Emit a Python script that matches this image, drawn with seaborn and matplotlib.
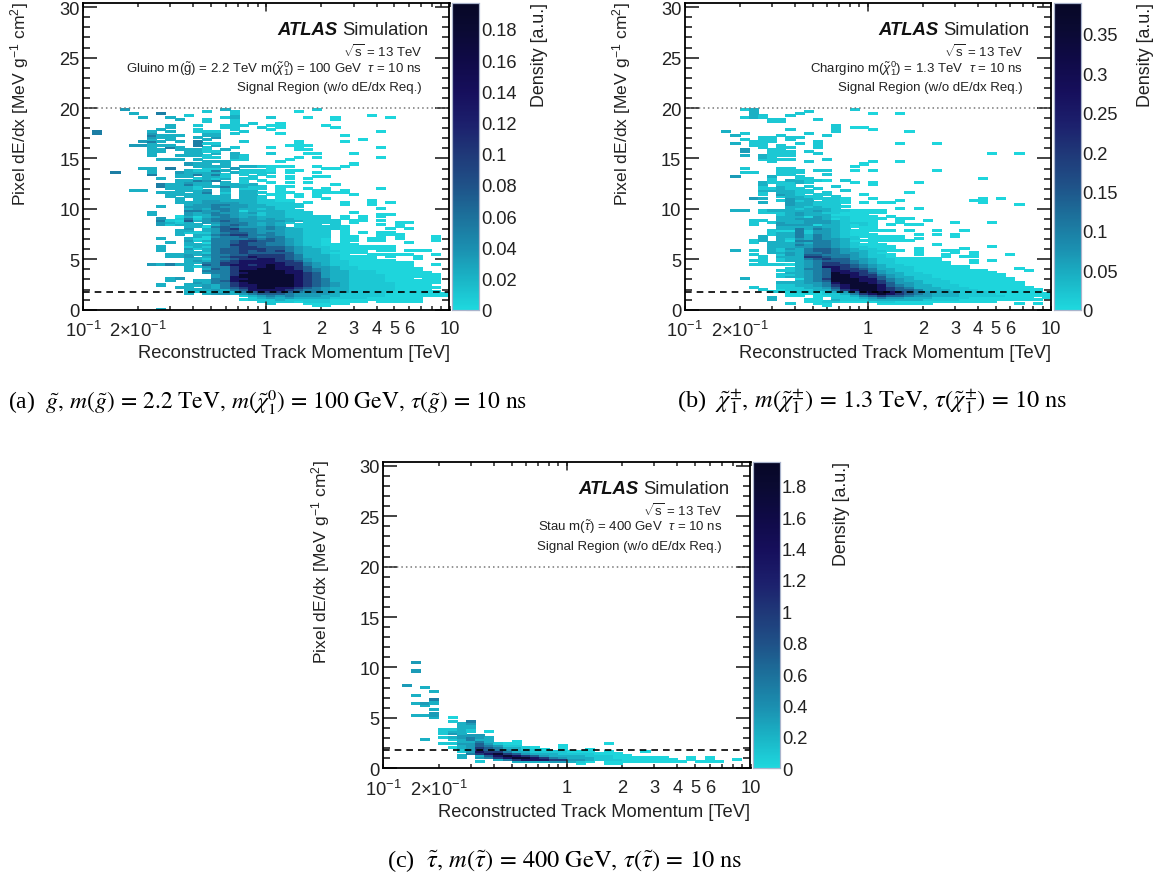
#libraries
import numpy as np
import pandas as pd
import matplotlib
matplotlib.use('Agg')
import matplotlib.pyplot as plt
import seaborn as sns
from matplotlib.colors import LinearSegmentedColormap

W, H = 1164, 878

#%% data, one string per row of the 2d histogram, top row first, 40 log-p bins per row
#'.' = empty bin, 1-9 = colour level
rows_a = [
"....4 ..... ..... 3.... ..... 2.... ..... .....",
"..... ..... ...2. .2... ...1. ..... ..... .....",
"..... 3..5. ..... .2... ..... ..... ..... .....",
"..... ..... .2... .3... ..... ..... .1... .....",
"..... .3..3 ..... 23... 2...1 ..1.. ...1. .....",
"..... ..... 3..2. .2... ..... ..1.. ..... .....",
"..... ..... ...2. .2... ..... ..... ..... .....",
"..... ..... ..... .2.2. .1... ..... ..... .....",
"..... ....3 ..2.. 222.. 11... .1... ..... .....",
"..... ....3 ..... 22..2 .1... ..1.. ..... .....",
"..... ...3. ..2.. .2... 1.... ..... ..... .....",
".5... ..3.3 ..222 ..2.. ..... ..... ..1.. .....",
".5... ..4.. ...33 .2... .1... ..... ..... .....",
"..... ..533 3..33 ..... ..... ...1. ..... .....",
"..... ..433 ..3.4 ..... ..... ..... ..... .....",
"..... ..3.3 ...3. ..... ..... ..... 1.... .....",
"..... .453. 3.5.. ..2.. ...1. ...1. ..... .....",
"..... ..3.. ..522 ..... ...1. ..... ..... .....",
"..... 44333 ..5.3 ..... ..111 ..... ..... .....",
"..... ..3.5 3..2. .2... 1..1. ..... ..1.. .....",
"..... ..33. 3332. 3.... ...11 ..... ..... .....",
"..... ..33. .3322 ..... ..... ..... ..... .....",
"..... ..3.. .33.3 .3... 2...1 1...1 ..... .....",
"..... ..3.. 3332. .32.. ..... ..... ..... .....",
"..... ..... ...22 .32.. ...1. 1.... ..1.. .....",
"..... ...33 3.3.. .22.. ..1.. ..... ..... .....",
"..... ..... ...33 3.... .1... ..... ..... .....",
"..... ..... .433. 3.... ..... ....1 ..... .....",
"..... ..... ..333 3.332 111.. 1..1. ..... .....",
"..... .33.5 ...22 .4... 1.... .11.. ..... .....",
"..... ..3.. .3225 3.222 1.11. ..... ..... .....",
"...5. ..3.. 43333 .3222 2.1.. 1.... ..... .....",
"..... ..5.. 33535 2.2.2 ..... ..... ..... .....",
"..... ..... 33.33 2..2. 1.1.. 11... ..... .....",
"..... ...3. ..232 3.22. ..1.1 ..... ..... .....",
"..... ..... 33545 ..2.1 ..... ..... ..... .....",
"..... ..... 3433. 3.2.. 1.1.1 ..... ..... .....",
"..... ...53 3533. 3333. ..... ..1.. ..... .....",
"..... ...53 33233 53322 .11.. ..... ..... .....",
"..... ....3 332.. 3.222 .1..1 .1... ..1.. .....",
"..... 33... 3334. 3.33. .1... 11.1. ..... .....",
"..... ...33 3.35. 2.332 .11.. 1111. ..... .....",
"..... ....3 3333. 3.33. 11.1. 1...1 ..... .....",
"..... ....3 .3333 3.332 .1.1. 1.... ..... .....",
"..... ..... 3.333 3.332 .1... .1... ..... .....",
"..... ..... 3.344 33332 211.. ..... .1... .....",
"..... ..... 33344 44332 222.1 ...1. .1.1. .....",
"..... ..... .3445 54433 2222. ...1. .1... .....",
"..... ...3. .4445 44433 3222. ..... ..... .....",
"..... ..... .3435 54332 322.. ..... ..1.. .....",
"..... ..... .5544 54133 3322. ..... ..... .....",
"..... ..3.. .4345 44342 33222 ....1 ..... .....",
"..... ..3.. .4335 54332 33222 ..... ..11. .....",
"..... ..... 13134 54343 33222 22.1. 1.1.. .....",
"..... ...4. 25245 55443 43322 22.1. 1.... .....",
"..... ...52 16345 65444 44332 222.1 1.1.. .....",
"..... ...43 23.44 55543 432.2 222.1 ....1 1....",
"..... ...42 333.3 56543 43.22 2.2.. ..1.1 .....",
"..... ..... .3315 65444 54.22 2221. ....1 .....",
"..... ..... .4.34 67554 54332 2221. ...1. 1....",
"..... ..... 33.34 66554 44332 22.1. ..... .....",
"..... ..... 32224 56654 54332 22.1. 1.11. .....",
"..... ..... 3.335 67755 54332 22.1. ..111 .....",
"..... ..... ..314 55654 55332 22.11 ..1.1 ...1.",
"..... ...3. .3115 55565 65432 21.11 .11.1 ...1.",
"..... ..... .4235 56776 65432 21.11 .11.. ...1.",
"..... ....3 .3.15 56766 55432 21.1. ..... 1....",
"..... ..... .3335 57766 55432 21111 ..... .....",
"..... ...3. .2325 56776 66543 22111 1111. .....",
"..... ...3. .4235 66777 66543 32111 1111. .....",
"..... ...3. .3.35 66767 67543 32211 1.11. 111..",
"..... ..... .3325 66766 66643 32111 1.... .....",
"..... ....3 34345 56677 77653 3321. .1111 1..1.",
"..... ....3 34.35 67787 77653 33211 11.1. .1...",
"..... ..... .3325 56778 87654 33211 11... .1...",
"..... ..... .3435 67888 87764 33221 1111. .....",
"..... ..... .3355 77888 88775 43221 11111 1....",
"..... ..435 33.65 78878 98775 43221 11111 1..1.",
"..... ..... .3245 57888 98876 44322 11111 1....",
"..... ..... .3.36 57889 98876 54322 11111 11...",
"..... ..... .3.55 57999 99886 54332 22111 11...",
"..... ..... ...45 57899 99887 64332 22111 111..",
"..... ..... ....4 57999 99987 64332 22211 1111.",
"..... ..... ....4 58999 99987 64332 22211 1111.",
"..... ....3 4...5 58899 99987 65332 22211 1.11.",
"..... ....3 ..335 68999 99987 65332 22211 1111.",
"..... ..... ..435 57899 99987 65432 22221 1111.",
"..... ...3. .3343 57889 99987 65432 22221 111..",
"..... ..... 33.43 56789 98876 54332 22221 1111.",
"..... ..... .3334 35688 88765 54332 22221 111..",
"..... ..... .3223 33567 77654 54332 22211 1111.",
"..... ..... .3.34 43456 66544 44322 22211 11111",
"..... ..... ..... ..234 54544 43322 22211 11111",
"..... ..... ..... ...23 43433 33222 21111 11...",
"..... ..... ..... ..122 23222 22111 11111 11...",
"..... ..... ..... ....2 22212 22111 1.111 11...",
"..... ..... ..... ..... 2...1 1111. ..... .....",
"..... ..... ..... ..... ..... 11... ..... .....",
"..... ..... ..... ..... ..... ..... ..... .....",
"..... ...3. ..... ..... ..... ..... ..... .....",
]

rows_b = [
"..... .23.. ..... ...2. ..... ..... ..... .....",
"..... ..3.. ...2. ..... ..... ..... ..... .....",
"..... ..3.. ..2.. ..... 1..1. ..... ..... .....",
"..... ..32. .2... ..... ..... ..... ..... .....",
"..... .232. ..... ..... ..... ..... ..... .....",
"..... ....2 2...2 ..... ..... ..... ..... .....",
"..... ....2 2.... ..... ..... ..... ..... .....",
"..... ..... ..... ..... ..... ..... ..... .....",
"..... ..... ..... .2... ..... ..... ..... .....",
"..... ..... ..... .2.11 ..... ..... ..... .....",
"..... ..... .2... .2... 1.... ..... ..... .....",
"....3 ..... ..... .2... ....1 ..... ..... .....",
"..... .2... ...2. ..... ..... ..... ..... .....",
"..... 3.... 2.... 2.... ..... ..... ..... .....",
"..... ...22 .22.. ..... ..... ..... ..... .....",
"..... .2.22 .2... ..... ..... ..... ..... .....",
"..... ..222 ....2 ..... ..... ..... ..... .....",
"..... 3.22. ..2.2 ..... ...1. ..1.. ..... .....",
"..... ..22. 2...2 ..... ..... ..... ..... .....",
"..... ...2. 22..2 ..... ..... ..... ..... .....",
"..... .4..2 2.... ..... ..... ..... ..... .....",
"..... .4..2 22.2. ..... ..... ..... ..... .....",
"..... ....2 22..2 ..... ..... ..... ...1. .1...",
"..... .3.32 22... ..... ..... ..... ..... .....",
"..... ...32 ..... ..... ..... ..... ..... .....",
"..... ...22 22... 2.... ..... ..... ..... .....",
"..... ....2 ...2. ..... 1..1. ..... ..... .....",
"..... ..... ..... ....1 ..... ..... ..... .....",
"..... ..... ..... ...1. ..... ..... ..... .....",
"..... .2... 22... ..... ..... ..... ..... .....",
"..... ..... 222.2 2..1. 1.... ..1.. ..... .....",
"..... .22.. 222.. ..... ..... ..... ..... .....",
"..... ..... 22... 2.... ..... ..... ..... .....",
"..... 4...3 ..2.. ..... ..... ..... ..... .....",
"..... ....2 ..22. ..... ..... ..... ..1.. .....",
"..... ....2 .3322 1.2.. ..... ..... ..... .....",
"..... ...32 2232. ...1. 1.... 1.... ..... .....",
"..... ...3. 22... ..... 1.... ..... ..... .....",
"..... ...2. 32.2. .2... ..... ..... ..... .....",
"..... ...22 322.2 ..... ..... ..... ..... .....",
"..... ...33 3322. ..2.. ..... ..... ..... .....",
"..... ...2. 3322. 2.... ....1 ..... ..... .....",
"..... ...2. 432.2 2...1 ..... ..... ..... .....",
"..... ..... 23322 .2... ..... ..... ..... .....",
"..... ..43. .4332 221.. 1.... ..... ..1.1 .....",
"..... ..... 2423. 221.. ...1. ..... .11.. .....",
"..... ...3. .4332 221.1 .11.. ..... ..1.. .....",
"..... ..... .4332 22... ..... ..... ..... .1...",
"..... ..... .3323 221.. ..... ..... ..... .....",
"..... ..... .3233 32... ...1. 1.... ..... .....",
"..... 33.23 33334 32211 11... ..... ..... .....",
"..... ...22 23433 22111 11... ..... ..... .....",
"..... ..... 23433 31111 ..... ..... ..... .....",
"..... ..... 33314 32211 1.1.. ..... ..... .....",
"..... ..... 33444 31211 11.11 ..... ..... .....",
"..... ..22. 33344 43211 1..1. .1... ..... .....",
"..... ..2.2 43344 43222 1..1. ....1 ...1. .....",
"..... ..2.. 44441 33212 1.1.1 1.... ..... .....",
"..... ..... 33334 33211 1.... ..... ..... .....",
"..... ..... 33535 432.1 1.... ..... ..... .....",
"..... ....2 11524 43211 111.1 ..1.. 1.... .....",
"..... ....2 33524 43211 ..... ..... ..... .....",
"..... ....2 33535 43211 1.... 1.1.1 ..... .....",
"..... ...3. 33535 43221 1111. ....1 ..... .....",
"..... ...3. 32435 4432. 1111. 1.... ..... .....",
"..... ..23. 31555 54311 11111 ..... ..... .....",
"..... ..2.3 33435 5432. 1.... ..... ..... .....",
"..... ....3 33545 54321 11... ..1.. ..... .....",
"..... ....3 33445 54322 111.. ..... ...1. .....",
"..... ....3 24356 65432 211.. 1.... 1.... .....",
"..... 3.2.3 23356 65433 2211. 1..11 ..... .....",
"..... ....3 34355 65443 21... 1...1 .1... .....",
"..... ..2.. 24366 55543 221.. 1..1. .1... 1....",
"..... ...2. 33377 65543 221.. ...1. 11... .....",
"..... ...2. 23356 76644 32211 111.. ..... .....",
"..... ..22. 23345 66654 32211 111.. .1.1. .....",
"..... ...2. ..345 77654 32211 1111. .1... .....",
"..... ..222 21345 77765 43221 1111. ..... .....",
"..... ..... ..345 88765 43222 11111 1.... .....",
"..... ..... .2355 68776 53322 11111 1.... .1...",
"..... ..... 22345 68877 54322 11111 111.. ..1..",
"..... ..... .3345 69887 64332 21111 1111. .....",
"..... ..... 22345 69987 75432 22111 11111 .....",
"..... ..... 23345 69988 76433 22111 11111 .....",
"..... .3... ..145 79998 86543 22211 11111 1....",
"..... ..... ..345 69998 87543 32221 11111 1....",
"..... ..... 33344 58999 87644 32221 11111 11...",
"..... ..... 22334 57899 98654 33222 11111 11...",
"..... ..2.. 22233 46899 98765 33322 21111 111..",
"..... ...2. 12223 35789 98766 53332 22111 1111.",
"..... ....2 21221 23468 99876 54333 22211 1111.",
"..... ..... .1111 22357 89876 54333 22221 11111",
"..... ..... .11.1 12235 67665 44333 22222 11111",
"..... ....3 ....1 .2223 45443 33222 21111 111.1",
"..... ....3 ...11 .3222 33333 32222 11111 1111.",
"..... ..... ...11 22111 12211 11111 1111. .....",
"..... ..... .2..1 1.... .1111 11... ..... .1.1.",
"..... ..... ..... 1.... ..... ..... ..... .....",
]

rows_c = [
"...4.",
"", "", "",
"...4.",
"", "", "", "", "", "",
"..4..",
"....3",
"",
"..... 3....",
"",
"...3.",
"",
"..... 5....",
"..... 3....",
"...34 3....",
"....3 .....",
"",
"..... 3....",
"",
"..... 4....",
"...33 4....",
"..... 3.1..",
"",
"..... ..2.5",
"..... ...34",
"..... ...33",
"..... ...33",
"..... .2232",
"..... .2332 .1...",
"..... .243.",
"..... ...44 4....",
"..... .2345 43...",
"....3 ..235 33...",
"..... ...33 53..1",
"..... .2244 64211 ..... ....1",
"..... ...34 65422 ....1",
"..... ..134 76533 21..1",
"..... ...24 76543 221.1 ..1..",
"..... ...24 87753 32222 111.1 ...1.",
"..... ....5 78976 43332 22211 1....",
"..... ...3. 36898 76433 33222 11...",
"..... ...3. 45789 98754 33322 11111 1..1. 1....",
"..... ..... ..357 88877 44322 21111 11.1. 1..1.",
"..... ..... 2...3 33344 321.1 11111 111.1 11...",
"..... ..... ..... ..... .1..1 1....",
]

#colour level -> fraction of the z axis maximum
level_frac = [0.01, 0.045, 0.11, 0.17, 0.26, 0.36, 0.5, 0.68, 0.92]

zmax_a, zmax_b, zmax_c = 0.1964, 0.389, 1.952
zticks_a = [0, 0.02, 0.04, 0.06, 0.08, 0.1, 0.12, 0.14, 0.16, 0.18]
zticks_b = [0, 0.05, 0.1, 0.15, 0.2, 0.25, 0.3, 0.35]
zticks_c = [0, 0.2, 0.4, 0.6, 0.8, 1, 1.2, 1.4, 1.6, 1.8]

xticks_major = [0.1, 1, 10]
xticks_minor = [0.2, 0.3, 0.4, 0.5, 0.6, 0.7, 0.8, 0.9, 2, 3, 4, 5, 6, 7, 8, 9]
xtick_vals = [0.1, 0.2, 1, 2, 3, 4, 5, 6, 10]
xtick_labels = ['10$^{-1}$', '2×10$^{-1}$', '1', '2', '3', '4', '5', '6', '10']
yticks_major = [0, 5, 10, 15, 20, 25, 30]

MIP_LINE = 1.8
SR_LINE = 20
DY = 0.2      #height of a histogram row
NCOL = 40     #20 bins per decade, 0.1 to 10 TeV
NROW = 150
YMAX = 30.4
FS = 13.2     #axis text size

#%% style
sns.set_theme(style='ticks')
plt.rcParams['font.family'] = ['Liberation Sans', 'DejaVu Sans']
plt.rcParams['mathtext.fontset'] = 'custom'
plt.rcParams['mathtext.rm'] = 'Liberation Sans'
plt.rcParams['mathtext.it'] = 'Liberation Sans:italic'
plt.rcParams['mathtext.bf'] = 'Liberation Sans:bold'
plt.rcParams['xtick.color'] = '#222222'
plt.rcParams['ytick.color'] = '#222222'

deep = LinearSegmentedColormap.from_list('deepsea', [
    (0.00, '#1ed8de'), (0.10, '#1ab4c6'), (0.20, '#1b8fb0'), (0.31, '#1c6f9a'),
    (0.41, '#1f5087'), (0.51, '#1f3878'), (0.61, '#1c1f6c'), (0.71, '#160f5c'),
    (0.82, '#0f0a46'), (0.92, '#0a0a32'), (1.00, '#070726')])

fig = plt.figure(figsize=(W / 100, H / 100), dpi=100, facecolor='white')


def px_axes(l, t, r, b):
    return fig.add_axes([l / W, 1 - b / H, (r - l) / W, (b - t) / H])


def xpos(v):
    #log momentum -> heatmap column coordinate
    return (np.log10(v) + 1) * NCOL / 2


def build_grid(rows, top_row, zmax):
    grid = np.full((NROW, NCOL), np.nan)
    for k, row in enumerate(rows):
        row = row.replace(' ', '').ljust(NCOL, '.')
        for c, ch in enumerate(row):
            if ch != '.':
                grid[top_row - k, c] = level_frac[int(ch) - 1] * zmax
    return pd.DataFrame(grid)


def panel(rows, top_row, zmax, zticks, x0, y0, ylab_x, dens_x, text_right, atlas_right, lines, x1, y1):
    ax = px_axes(x0, y0, x1, y1)
    cax = px_axes(x1 + 2.7, y0, x1 + 29.5, y1)
    df = build_grid(rows, top_row, zmax)
    sns.heatmap(df, mask=df.isna(), cmap=deep, vmin=0, vmax=zmax, ax=ax, cbar_ax=cax,
                xticklabels=False, yticklabels=False, rasterized=True)
    #the cells look a little fatter in the original scan
    ax.collections[0].set_edgecolor('face')
    ax.collections[0].set_linewidth(0.45)

    ax.set_xlim(0, NCOL)
    ax.set_ylim(0, YMAX / DY)
    for s in ax.spines.values():
        s.set_visible(True)
        s.set_linewidth(1.3)
        s.set_color('black')

    #reference lines
    ax.axhline(SR_LINE / DY, color='#777777', lw=1.1, ls=(0, (1, 2)))
    ax.axhline(MIP_LINE / DY, color='black', lw=1.2, ls=(0, (4, 3)))

    #axes ticks
    ax.set_xticks([xpos(v) for v in xtick_vals])
    ax.set_xticklabels(xtick_labels, fontsize=FS, color='#222222')
    ax.set_xticks([xpos(v) for v in xticks_minor if v not in xtick_vals], minor=True)
    ax.set_yticks([v / DY for v in yticks_major])
    ax.set_yticklabels([str(v) for v in yticks_major], fontsize=FS, color='#222222', rotation=0)
    ax.set_yticks([v / DY for v in range(0, 31) if v % 5 != 0], minor=True)
    ax.tick_params(axis='x', which='major', direction='in', length=2.6, width=1.1, top=True, pad=7.5)
    ax.tick_params(axis='x', which='minor', direction='in', length=2.6, width=1.1, top=True)
    ax.tick_params(axis='y', which='major', direction='in', length=10, width=1.2, right=True, left=True, pad=2.5)
    ax.tick_params(axis='y', which='minor', direction='in', length=5, width=1.2, right=True, left=True)
    #the decade marks are longer than the other ticks
    for v in xticks_major:
        ax.plot([xpos(v), xpos(v)], [0, 4], color='#222222', lw=1.1)
        ax.plot([xpos(v), xpos(v)], [YMAX / DY - 4, YMAX / DY], color='#222222', lw=1.1)

    #colour bar
    cax.set_yticks(zticks)
    cax.set_yticklabels(['%g' % z for z in zticks], fontsize=FS, color='#222222')
    cax.tick_params(axis='y', which='both', direction='in', length=9.5, width=1, color='#e8eaf0', pad=1.5,
                    right=True, left=False)
    cax.minorticks_off()
    for s in cax.spines.values():
        s.set_visible(True)
        s.set_linewidth(0.8)
        s.set_color('#aab4cc')

    #labels
    fig.text(ylab_x / W, 1 - (y0 - 2) / H, 'Pixel dE/dx [MeV g$^{-1}$ cm$^{2}$]', rotation=90,
             ha='center', va='top', fontsize=12.6, color='#222222')
    fig.text(dens_x / W, 1 - (y0 - 1) / H, 'Density [a.u.]', rotation=90,
             ha='center', va='top', fontsize=12.9, color='#222222')
    fig.text(x1 / W, 1 - (y1 + 43) / H, 'Reconstructed Track Momentum [TeV]',
             ha='right', va='center', fontsize=FS, color='#222222')

    #ATLAS label
    sim = fig.text(atlas_right / W, 1 - (y0 + 26.5) / H, 'Simulation', ha='right', va='center',
                   fontsize=13.3, color='#222222')
    fig.canvas.draw()
    sim_l = sim.get_window_extent().x0
    fig.text((sim_l - 4) / W, 1 - (y0 + 26.5) / H, 'ATLAS', ha='right', va='center', fontsize=13.3,
             fontweight='bold', fontstyle='italic', color='#111111')
    for txt, dy in zip(lines, [47.5, 64, 84]):
        fig.text(text_right / W, 1 - (y0 + dy) / H, txt, ha='right', va='center',
                 fontsize=9.5, color='#222222')
    return ax


panel(rows_a, 99, zmax_a, zticks_a, 83, 4.2, 20, 540, 422, 428,
      [r'$\sqrt{\rm s}$ = 13 TeV',
       r'Gluino m($\tilde{\rm g}$) = 2.2 TeV m($\tilde{\chi}^{0}_{1}$) = 100 GeV  $\tau$ = 10 ns',
       'Signal Region (w/o dE/dx Req.)'], 449.5, 310.7)
panel(rows_b, 99, zmax_b, zticks_b, 684.7, 4.2, 622, 1145, 1023, 1029,
      [r'$\sqrt{\rm s}$ = 13 TeV',
       r'Chargino m($\tilde{\chi}^{0}_{1}$) = 1.3 TeV  $\tau$ = 10 ns',
       'Signal Region (w/o dE/dx Req.)'], 1051, 310.7)
panel(rows_c, 52, zmax_c, zticks_c, 383.3, 462.8, 321, 842, 722, 729,
      [r'$\sqrt{\rm s}$ = 13 TeV',
       r'Stau m($\tilde{\tau}$) = 400 GeV  $\tau$ = 10 ns',
       'Signal Region (w/o dE/dx Req.)'], 750.5, 769.3)

#%% captions
cap_kw = dict(va='center', ha='left', family=['Liberation Serif', 'DejaVu Serif'],
              math_fontfamily='stix', color='black')
fig.text(8 / W, 1 - 402 / H,
         r'(a)  $\tilde{g},\, m(\tilde{g})\,=\,2.2\ \mathrm{TeV},\, m(\tilde{\chi}^{0}_{1})\,=\,100\ \mathrm{GeV},\, \tau(\tilde{g})\,=\,10\ \mathrm{ns}$',
         fontsize=16.9, **cap_kw)
fig.text(677 / W, 1 - 402 / H,
         r'(b)  $\tilde{\chi}^{\pm}_{1},\, m(\tilde{\chi}^{\pm}_{1})\,=\,1.3\ \mathrm{TeV},\, \tau(\tilde{\chi}^{\pm}_{1})\,=\,10\ \mathrm{ns}$',
         fontsize=17.6, **cap_kw)
fig.text(387 / W, 1 - 861 / H,
         r'(c)  $\tilde{\tau},\, m(\tilde{\tau})\,=\,400\ \mathrm{GeV},\, \tau(\tilde{\tau})\,=\,10\ \mathrm{ns}$',
         fontsize=17.6, **cap_kw)

fig.savefig('out.png', dpi=100, facecolor='white')
